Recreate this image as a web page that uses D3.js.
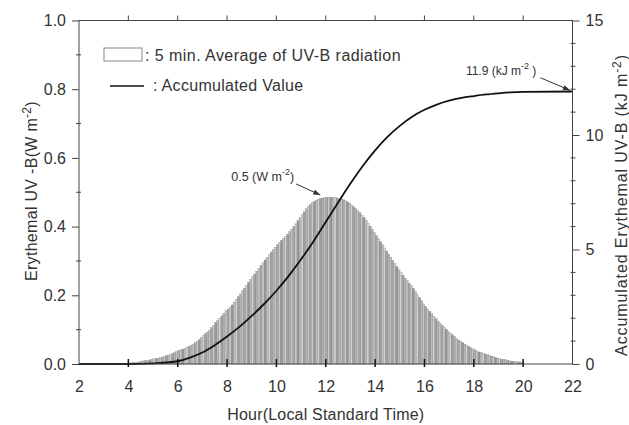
<!DOCTYPE html>
<html>
<head>
<meta charset="utf-8">
<script src="https://cdn.jsdelivr.net/npm/d3@7"></script>
<style>
  body { margin: 0; background: #fff; }
  text { font-family: "Liberation Sans", Arial, sans-serif; fill: #333; }
</style>
</head>
<body>
<div id="chart"></div>
<script>
// 5 min. averages of erythemal UV-B (W m-2), one row per hour, 4:00 .. 19:55
let uvStart = 4;
let uvStep = 5 / 60;
let uvValues = [
  0.003, 0.003, 0.004, 0.004, 0.005, 0.006, 0.008, 0.009, 0.010, 0.011, 0.012, 0.014,
  0.015, 0.016, 0.017, 0.019, 0.020, 0.022, 0.024, 0.026, 0.028, 0.030, 0.033, 0.036,
  0.039, 0.041, 0.043, 0.046, 0.048, 0.051, 0.055, 0.058, 0.062, 0.066, 0.071, 0.077,
  0.083, 0.088, 0.093, 0.099, 0.106, 0.112, 0.120, 0.127, 0.133, 0.140, 0.148, 0.155,
  0.160, 0.166, 0.172, 0.180, 0.188, 0.196, 0.204, 0.213, 0.221, 0.229, 0.238, 0.246,
  0.254, 0.262, 0.270, 0.278, 0.287, 0.295, 0.303, 0.311, 0.318, 0.326, 0.333, 0.340,
  0.347, 0.354, 0.360, 0.366, 0.372, 0.378, 0.385, 0.392, 0.400, 0.408, 0.417, 0.426,
  0.435, 0.443, 0.452, 0.459, 0.465, 0.470, 0.474, 0.477, 0.480, 0.482, 0.483, 0.484,
  0.485, 0.486, 0.485, 0.484, 0.486, 0.483, 0.482, 0.480, 0.478, 0.475, 0.472, 0.468,
  0.463, 0.458, 0.452, 0.446, 0.440, 0.433, 0.426, 0.418, 0.410, 0.401, 0.392, 0.383,
  0.374, 0.365, 0.356, 0.347, 0.338, 0.329, 0.320, 0.311, 0.301, 0.292, 0.283, 0.274,
  0.266, 0.258, 0.250, 0.243, 0.235, 0.228, 0.220, 0.211, 0.202, 0.193, 0.184, 0.175,
  0.167, 0.160, 0.153, 0.146, 0.139, 0.132, 0.125, 0.119, 0.113, 0.107, 0.101, 0.095,
  0.090, 0.085, 0.080, 0.075, 0.070, 0.066, 0.062, 0.058, 0.054, 0.050, 0.047, 0.044,
  0.041, 0.038, 0.035, 0.033, 0.031, 0.029, 0.027, 0.025, 0.023, 0.021, 0.019, 0.017,
  0.015, 0.014, 0.013, 0.012, 0.010, 0.009, 0.008, 0.008, 0.007, 0.006, 0.006, 0.005
];

// accumulated value (kJ m-2)
let accHours = [2, 4, 5, 6, 6.5, 7, 7.5, 8, 8.5, 9, 9.5, 10, 10.5, 11, 11.5, 12, 12.5, 13, 13.5, 14,
  14.5, 15, 15.5, 16, 16.5, 17, 17.5, 18, 18.5, 19, 19.5, 20, 22];
let accValues = [0, 0, 0.03, 0.12, 0.28, 0.5, 0.82, 1.2, 1.62, 2.1, 2.62, 3.2, 3.85, 4.57, 5.35, 6.2, 7.05, 7.88, 8.65, 9.33,
  9.92, 10.4, 10.8, 11.1, 11.33, 11.5, 11.62, 11.7, 11.77, 11.82, 11.86, 11.88, 11.9];

let xTicks = [2, 4, 6, 8, 10, 12, 14, 16, 18, 20, 22];
let leftTicks = [0, 0.2, 0.4, 0.6, 0.8, 1.0];
let rightTicks = [0, 5, 10, 15];

let width = 629, height = 425;

let xScale = d3.scaleLinear().domain([2, 22]).range([79, 572.5]);
let yLeft = d3.scaleLinear().domain([0, 1]).range([364, 20.5]);
let yRight = d3.scaleLinear().domain([0, 15]).range([364, 20.5]);

let svg = d3.select("#chart").append("svg")
  .attr("width", width)
  .attr("height", height);

// bars - greys cycle to imitate the striped look of the scan
let greys = ["#a6a6a6", "#c8c8c8", "#969696", "#bababa", "#d2d2d2", "#a0a0a0", "#b2b2b2", "#c2c2c2"];
let bars = uvValues.map((v, i) => ({ t: uvStart + i * uvStep, v: v }));

svg.append("g")
  .selectAll("rect")
  .data(bars)
  .enter()
  .append("rect")
  .attr("x", d => xScale(d.t))
  .attr("y", d => yLeft(d.v))
  .attr("width", d => xScale(d.t + uvStep) - xScale(d.t) + 0.3)
  .attr("height", d => yLeft(0) - yLeft(d.v))
  .attr("fill", (d, i) => greys[i % greys.length])
  .attr("stroke", "#808080")
  .attr("stroke-width", 0.3);

// accumulated curve
let acc = accHours.map((h, i) => ({ h: h, v: accValues[i] }));
let line = d3.line()
  .x(d => xScale(d.h))
  .y(d => yRight(d.v))
  .curve(d3.curveMonotoneX);

svg.append("path")
  .datum(acc)
  .attr("d", line)
  .attr("fill", "none")
  .attr("stroke", "#111")
  .attr("stroke-width", 1.8);

// frame
let axisColor = "#444";
svg.append("rect")
  .attr("x", xScale(2))
  .attr("y", yLeft(1))
  .attr("width", xScale(22) - xScale(2))
  .attr("height", yLeft(0) - yLeft(1))
  .attr("fill", "none")
  .attr("stroke", axisColor)
  .attr("stroke-width", 1);

// bottom axis: labels + ticks crossing the axis line
let bottom = svg.append("g")
  .attr("transform", "translate(0," + yLeft(0) + ")")
  .call(d3.axisBottom(xScale).tickValues(xTicks).tickSize(0).tickPadding(17));
bottom.select(".domain").remove();
bottom.selectAll("text").style("font-size", "16px").attr("fill", "#333");

svg.append("g")
  .selectAll("line")
  .data(xTicks.slice(1, -1))
  .enter()
  .append("line")
  .attr("x1", d => xScale(d)).attr("x2", d => xScale(d))
  .attr("y1", yLeft(0) - 5).attr("y2", yLeft(0) + 3)
  .attr("stroke", "#111").attr("stroke-width", 1.5);

// top axis: outward ticks only
svg.append("g")
  .selectAll("line")
  .data(xTicks.slice(1, -1))
  .enter()
  .append("line")
  .attr("x1", d => xScale(d)).attr("x2", d => xScale(d))
  .attr("y1", yLeft(1)).attr("y2", yLeft(1) - 5)
  .attr("stroke", axisColor);

// left axis
let left = svg.append("g")
  .attr("transform", "translate(" + xScale(2) + ",0)")
  .call(d3.axisLeft(yLeft).tickValues(leftTicks).tickFormat(d3.format(".1f")).tickSize(7).tickPadding(6));
left.select(".domain").remove();
left.selectAll("line").attr("stroke", axisColor);
left.selectAll("text").style("font-size", "16px").attr("fill", "#333");

svg.append("g")
  .selectAll("line")
  .data(d3.range(0.1, 1, 0.2))
  .enter()
  .append("line")
  .attr("x1", xScale(2) - 3).attr("x2", xScale(2) + 2)
  .attr("y1", d => yLeft(d)).attr("y2", d => yLeft(d))
  .attr("stroke", axisColor);

// right axis
let right = svg.append("g")
  .attr("transform", "translate(" + xScale(22) + ",0)")
  .call(d3.axisRight(yRight).tickValues(rightTicks).tickSize(7).tickPadding(6));
right.select(".domain").remove();
right.selectAll("line").attr("stroke", axisColor);
right.selectAll("text").style("font-size", "16px").attr("fill", "#333");

svg.append("g")
  .selectAll("line")
  .data(d3.range(1, 15).filter(d => d % 5 !== 0))
  .enter()
  .append("line")
  .attr("x1", xScale(22) - 2).attr("x2", xScale(22) + 3)
  .attr("y1", d => yRight(d)).attr("y2", d => yRight(d))
  .attr("stroke", axisColor);

// helper for "... m-2)" style labels
function withSup(sel, before, sup, after, supSize) {
  sel.append("tspan").text(before);
  sel.append("tspan").text(sup).attr("dy", -6).style("font-size", supSize + "px");
  sel.append("tspan").text(after).attr("dy", 6);
  return sel;
}

// axis titles
svg.append("text")
  .attr("x", xScale(12))
  .attr("y", 420)
  .attr("text-anchor", "middle")
  .style("font-size", "16px")
  .style("letter-spacing", "0.2px")
  .text("Hour(Local Standard Time)");

svg.append("text")
  .attr("transform", "translate(37,191) rotate(-90)")
  .attr("text-anchor", "middle")
  .style("font-size", "16px")
  .style("letter-spacing", "0.3px")
  .call(withSup, "Erythemal UV -B(W m", "-2", ")", 12);

svg.append("text")
  .attr("transform", "translate(627,205) rotate(-90)")
  .attr("text-anchor", "middle")
  .style("font-size", "16px")
  .style("letter-spacing", "0.9px")
  .call(withSup, "Accumulated Erythemal UV-B (kJ m", "-2", ")", 12);

// legend
svg.append("rect")
  .attr("x", 104).attr("y", 48)
  .attr("width", 38).attr("height", 13)
  .attr("fill", "#fff")
  .attr("stroke", "#888");
svg.append("text")
  .attr("x", 145).attr("y", 61)
  .style("font-size", "16px")
  .style("letter-spacing", "0.45px")
  .text(": 5 min. Average of UV-B radiation");

svg.append("line")
  .attr("x1", 110).attr("x2", 144)
  .attr("y1", 86).attr("y2", 86)
  .attr("stroke", "#111").attr("stroke-width", 1.5);
svg.append("text")
  .attr("x", 153).attr("y", 91)
  .style("font-size", "16px")
  .style("letter-spacing", "0.3px")
  .text(": Accumulated Value");

// annotations
function arrow(x1, y1, x2, y2) {
  svg.append("line")
    .attr("x1", x1).attr("y1", y1).attr("x2", x2).attr("y2", y2)
    .attr("stroke", "#333").attr("stroke-width", 1);
  let a = Math.atan2(y2 - y1, x2 - x1);
  let len = 7, w = 2.5;
  let bx = x2 - len * Math.cos(a), by = y2 - len * Math.sin(a);
  let p = [[x2, y2],
    [bx - w * Math.sin(a), by + w * Math.cos(a)],
    [bx + w * Math.sin(a), by - w * Math.cos(a)]];
  svg.append("path")
    .attr("d", "M" + p.map(q => q.join(",")).join("L") + "Z")
    .attr("fill", "#333");
}

svg.append("text")
  .attr("x", xScale(10.72))
  .attr("y", yLeft(0.534))
  .attr("text-anchor", "end")
  .style("font-size", "12.5px")
  .call(withSup, "0.5 (W m", "-2", ")", 9);
arrow(xScale(10.8), yLeft(0.524), xScale(11.78), yLeft(0.492));

svg.append("text")
  .attr("x", xScale(17.68))
  .attr("y", yRight(12.62))
  .style("font-size", "12px")
  .call(withSup, "11.9 (kJ m", "-2", " )", 9);
arrow(xScale(20.7), yRight(12.5), xScale(21.9), yRight(11.95));
</script>
</body>
</html>
